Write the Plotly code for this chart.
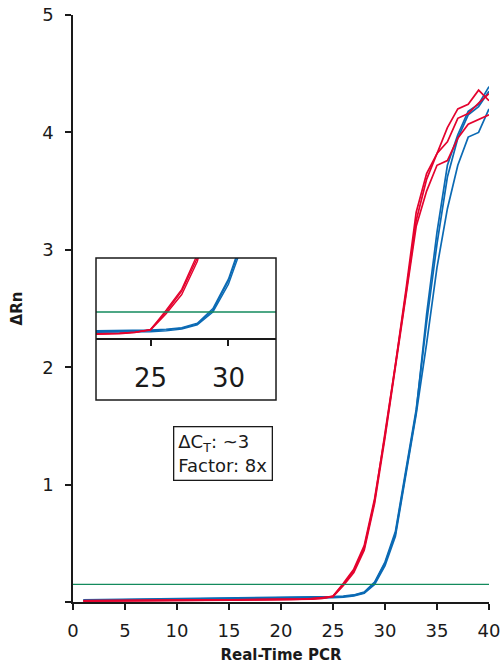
import plotly.graph_objects as go

cycles = list(range(1, 41))

red_1 = [0.010, 0.010, 0.011, 0.012, 0.012, 0.013, 0.013, 0.014, 0.014, 0.015,
         0.015, 0.016, 0.016, 0.017, 0.017, 0.018, 0.018, 0.019, 0.020, 0.021,
         0.022, 0.024, 0.027, 0.033, 0.050, 0.15, 0.27, 0.46, 0.86, 1.42,
         2.02, 2.65, 3.32, 3.65, 3.82, 4.04, 4.20, 4.24, 4.36, 4.27]
red_2 = [0.008, 0.009, 0.010, 0.010, 0.011, 0.011, 0.012, 0.012, 0.013, 0.013,
         0.014, 0.014, 0.015, 0.015, 0.016, 0.016, 0.017, 0.017, 0.018, 0.019,
         0.020, 0.022, 0.025, 0.031, 0.048, 0.16, 0.28, 0.48, 0.88, 1.42,
         2.00, 2.62, 3.25, 3.60, 3.82, 3.92, 4.12, 4.16, 4.25, 4.33]
red_3 = [0.012, 0.012, 0.013, 0.013, 0.014, 0.014, 0.015, 0.015, 0.016, 0.016,
         0.017, 0.017, 0.018, 0.018, 0.019, 0.019, 0.020, 0.020, 0.021, 0.022,
         0.023, 0.025, 0.028, 0.034, 0.046, 0.14, 0.25, 0.44, 0.84, 1.40,
         2.00, 2.60, 3.20, 3.50, 3.72, 3.76, 3.95, 4.07, 4.11, 4.15]

blue_1 = [0.015, 0.016, 0.017, 0.018, 0.019, 0.020, 0.021, 0.022, 0.022, 0.023,
          0.024, 0.025, 0.026, 0.027, 0.028, 0.029, 0.030, 0.031, 0.032, 0.033,
          0.034, 0.036, 0.038, 0.040, 0.042, 0.047, 0.057, 0.080, 0.16, 0.33,
          0.58, 1.10, 1.62, 2.45, 3.15, 3.72, 3.98, 4.18, 4.24, 4.39]
blue_2 = [0.012, 0.013, 0.014, 0.015, 0.016, 0.017, 0.018, 0.018, 0.019, 0.020,
          0.021, 0.021, 0.022, 0.023, 0.024, 0.025, 0.025, 0.026, 0.027, 0.028,
          0.029, 0.030, 0.032, 0.034, 0.036, 0.041, 0.052, 0.075, 0.15, 0.31,
          0.56, 1.08, 1.60, 2.20, 2.85, 3.35, 3.72, 3.96, 4.00, 4.20]
blue_3 = [0.018, 0.019, 0.020, 0.021, 0.022, 0.023, 0.024, 0.025, 0.026, 0.027,
          0.028, 0.029, 0.030, 0.031, 0.032, 0.033, 0.034, 0.035, 0.036, 0.037,
          0.038, 0.040, 0.042, 0.044, 0.046, 0.051, 0.060, 0.085, 0.17, 0.34,
          0.60, 1.12, 1.64, 2.38, 3.05, 3.62, 3.95, 4.15, 4.22, 4.35]

threshold = 0.15

x_ticks = [0, 5, 10, 15, 20, 25, 30, 35, 40]
y_ticks = [1, 2, 3, 4, 5]
inset_ticks = [25, 30]

RED = "#e4032e"
BLUE = "#0b6ab4"
GREEN = "#138a5c"
INK = "#1a1a1a"
FONT = "DejaVu Sans"

fig = go.Figure()

for series, col in [(blue_1, BLUE), (blue_2, BLUE), (blue_3, BLUE),
                    (red_1, RED), (red_2, RED), (red_3, RED)]:
    fig.add_trace(go.Scatter(x=cycles, y=series, mode="lines",
                             line=dict(color=col, width=1.7),
                             showlegend=False, hoverinfo="skip"))
fig.add_trace(go.Scatter(x=[x_ticks[0], x_ticks[-1]], y=[threshold, threshold],
                         mode="lines", line=dict(color=GREEN, width=1.4),
                         showlegend=False, hoverinfo="skip"))

# inset
for series, col in [(blue_1, BLUE), (blue_2, BLUE), (blue_3, BLUE),
                    (red_1, RED), (red_2, RED), (red_3, RED)]:
    fig.add_trace(go.Scatter(x=cycles, y=series, mode="lines",
                             line=dict(color=col, width=1.4),
                             xaxis="x2", yaxis="y2",
                             showlegend=False, hoverinfo="skip"))
fig.add_trace(go.Scatter(x=[0, 40], y=[threshold, threshold], mode="lines",
                         line=dict(color=GREEN, width=1.4),
                         xaxis="x2", yaxis="y2",
                         showlegend=False, hoverinfo="skip"))

fig.update_layout(
    width=504, height=666,
    margin=dict(l=73, r=15, t=15, b=64),
    paper_bgcolor="white", plot_bgcolor="rgba(0,0,0,0)",
    font=dict(family=FONT, color=INK, size=17),
    xaxis=dict(range=[0, 40], tickvals=x_ticks, showgrid=False, zeroline=False,
               automargin=False,
               showline=True, linecolor=INK, linewidth=1.5,
               ticks="outside", ticklen=6, tickwidth=1.5, tickcolor=INK,
               tickfont=dict(size=18), ticklabelstandoff=6,
               title=dict(text="<b>Real-Time PCR</b>", font=dict(size=15), standoff=9)),
    yaxis=dict(range=[0, 5], tickvals=y_ticks,
               showgrid=False, zeroline=False, automargin=False,
               showline=True, linecolor=INK, linewidth=1.5,
               ticks="outside", ticklen=6, tickwidth=1.5, tickcolor=INK,
               tickfont=dict(size=18), ticklabelstandoff=8,
               minor=dict(tickvals=[0], ticks="outside", ticklen=6,
                          tickwidth=1.5, tickcolor=INK),
               title=dict(text="<b>ΔRn</b>", font=dict(size=15), standoff=16)),
    xaxis2=dict(domain=[0.0553, 0.488], anchor="y2", range=[21.5, 33.05],
                tickvals=inset_ticks, showgrid=False, zeroline=False,
                automargin=False,
                showline=True, linecolor=INK, linewidth=1.5,
                ticks="outside", ticklen=6, tickwidth=1.5, tickcolor=INK,
                tickfont=dict(size=26), ticklabelstandoff=10),
    yaxis2=dict(domain=[0.4497, 0.586], anchor="x2", range=[0, 0.46],
                showgrid=False, zeroline=False, showline=False,
                automargin=False,
                showticklabels=False, ticks=""),
    shapes=[dict(type="rect", xref="paper", yref="paper",
                 x0=0.0553, x1=0.488, y0=0.344, y1=0.586,
                 line=dict(color=INK, width=1.5), layer="above")],
    annotations=[dict(xref="paper", yref="paper", x=0.3606, y=0.2538,
                      text="ΔC<sub>T</sub>: ~3<br>Factor: 8x", showarrow=False,
                      align="left", font=dict(size=18, family=FONT),
                      bordercolor=INK, borderwidth=1.3, borderpad=4,
                      bgcolor="white", xanchor="center", yanchor="middle")],
)

fig.write_html("out.html", config={"displayModeBar": False},
               post_script="document.body.style.margin='0';")
